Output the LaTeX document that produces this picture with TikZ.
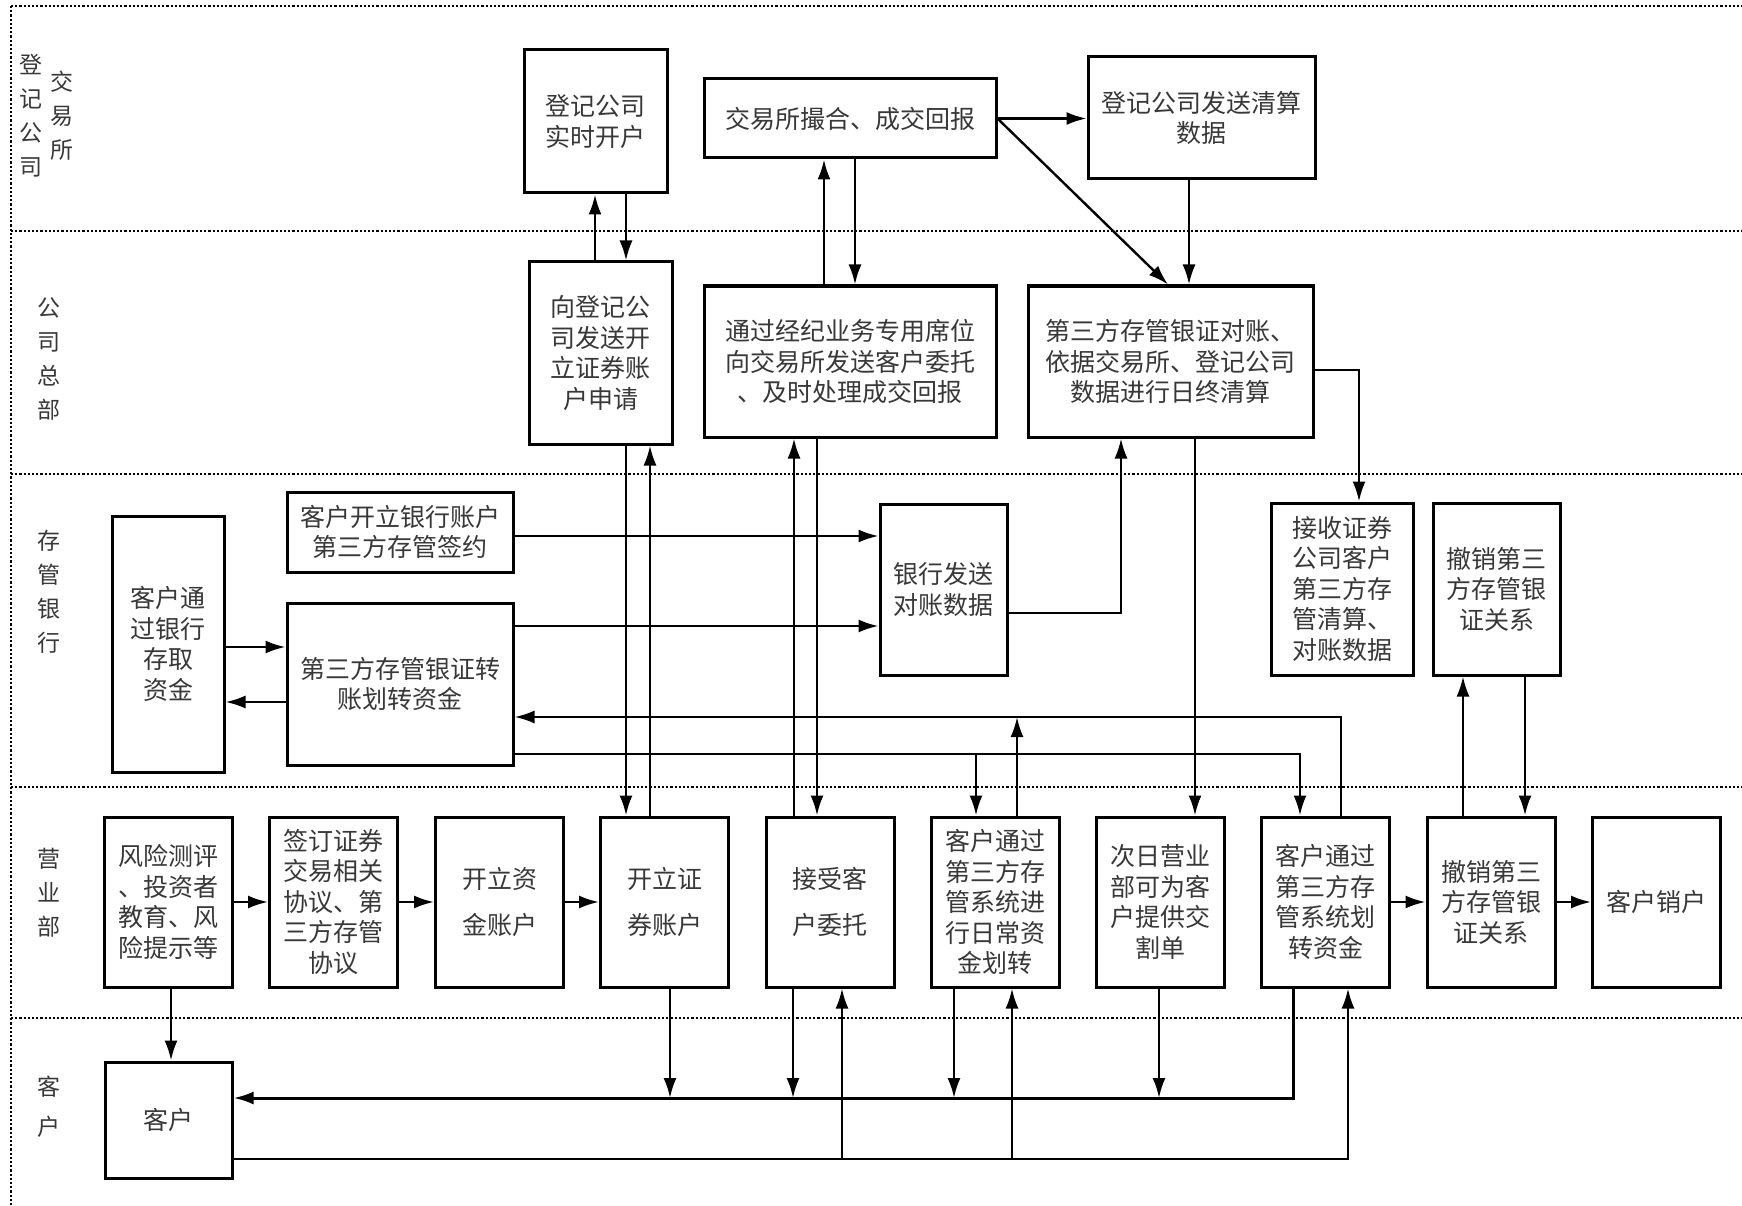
\documentclass[tikz,border=0pt]{standalone}
\usepackage{fontspec}
\newfontfamily\cjk{Noto Sans CJK SC}
\usetikzlibrary{arrows.meta}
\begin{document}
\begin{tikzpicture}[x=1pt,y=-1pt,
  box/.style={draw, line width=3pt, inner sep=0pt, align=center, font=\cjk\fontsize{25}{30.5}\selectfont, text=black!78},
  arr/.style={line width=2.4pt, -{Latex[length=20pt,width=13pt]}},
  lane/.style={line width=1.5pt, dash pattern=on 2.2pt off 2pt},
  lbl/.style={align=center, font=\cjk\fontsize{23}{34}\selectfont, text=black!78, inner sep=0pt}]

\fill[white] (0,0) rectangle (1742,1206);
\useasboundingbox (0,0) rectangle (1742,1206);

% swimlanes
\draw[lane] (11,6) -- (1742,6);
\draw[lane] (11,231) -- (1742,231);
\draw[lane] (11,474) -- (1742,474);
\draw[lane] (11,787) -- (1742,787);
\draw[lane] (11,1018) -- (1742,1018);
\draw[lane] (11,6) -- (11,1206);

% lane labels
\node[lbl] (L1a) at (31,116) {登\\记\\公\\司};
\node[lbl] (L1b) at (62,116) {交\\易\\所};
\node[lbl] (L2) at (49,358.5) {公\\司\\总\\部};
\node[lbl] (L3) at (49,592) {存\\管\\银\\行};
\node[lbl] (L4) at (49,893) {营\\业\\部};
\node[lbl, font=\cjk\fontsize{23}{40}\selectfont] (L5) at (49,1107) {客\\户};

% row A
\node[box, minimum width=143pt, minimum height=143pt] (A1) at (595.5,121.5) {登记公司\\实时开户};
\node[box, minimum width=292pt, minimum height=79pt] (A2) at (850,118.5) {交易所撮合、成交回报};
\node[box, minimum width=227pt, minimum height=122pt] (A3) at (1201.5,118) {登记公司发送清算\\数据};

% row B
\node[box, minimum width=143pt, minimum height=182pt] (B1) at (600.5,353) {向登记公\\司发送开\\立证券账\\户申请};
\node[box, minimum width=292pt, minimum height=151pt] (B2) at (850,361.5) {通过经纪业务专用席位\\向交易所发送客户委托\\、及时处理成交回报};
\node[box, minimum width=285pt, minimum height=151pt] (B3) at (1170.5,361.5) {第三方存管银证对账、\\依据交易所、登记公司\\数据进行日终清算};

% row C
\node[box, minimum width=226pt, minimum height=80pt] (C1) at (400,532) {客户开立银行账户\\第三方存管签约};
\node[box, minimum width=112pt, minimum height=256pt] (C2) at (168,644) {客户通\\过银行\\存取\\资金};
\node[box, minimum width=226pt, minimum height=162pt] (C3) at (400,684) {第三方存管银证转\\账划转资金};
\node[box, minimum width=127pt, minimum height=171pt] (C4) at (943.5,589.5) {银行发送\\对账数据};
\node[box, minimum width=142pt, minimum height=172pt] (C5) at (1342,589) {接收证券\\公司客户\\第三方存\\管清算、\\对账数据};
\node[box, minimum width=127pt, minimum height=172pt] (C6) at (1496.5,589) {撤销第三\\方存管银\\证关系};

% row D
\tikzset{dbox/.style={box, minimum width=128pt, minimum height=170pt}}
\node[dbox] (D1) at (168,902) {风险测评\\、投资者\\教育、风\\险提示等};
\node[dbox] (D2) at (333.5,902) {签订证券\\交易相关\\协议、第\\三方存管\\协议};
\node[dbox] (D3) at (499.5,902) {开立资\\[16pt]金账户};
\node[dbox] (D4) at (664.5,902) {开立证\\[16pt]券账户};
\node[dbox] (D5) at (830,902) {接受客\\[16pt]户委托};
\node[dbox] (D6) at (995,902) {客户通过\\第三方存\\管系统进\\行日常资\\金划转};
\node[dbox] (D7) at (1160.5,902) {次日营业\\部可为客\\户提供交\\割单};
\node[dbox] (D8) at (1325.5,902) {客户通过\\第三方存\\管系统划\\转资金};
\node[dbox] (D9) at (1491,902) {撤销第三\\方存管银\\证关系};
\node[dbox] (D10) at (1656.5,902) {客户销户};

% row E
\node[box, minimum width=127pt, minimum height=116pt] (E1) at (168.5,1120) {客户};

% junction coordinates
\coordinate (jB) at (1017,717);
\coordinate (jT) at (976,754);
\coordinate (k4) at (670,1098);
\coordinate (k5) at (793,1098);
\coordinate (k6) at (954,1098);
\coordinate (k7) at (1159,1098);
\coordinate (m5) at (842,1159);
\coordinate (m6) at (1012,1159);

% A <-> B
\draw[arr] (595,0 |- B1.north) -- (595,0 |- A1.south);
\draw[arr] (626,0 |- A1.south) -- (626,0 |- B1.north);
\draw[arr] (824,0 |- B2.north) -- (824,0 |- A2.south);
\draw[arr] (855,0 |- A2.south) -- (855,0 |- B2.north);
\draw[arr] (A2.east) -- (A3.west |- A2.east);
\draw[arr] (A2.east) -- (1168,0 |- B3.north);
\draw[arr] (1189,0 |- A3.south) -- (1189,0 |- B3.north);

% B <-> D, C
\draw[arr] (650,0 |- D4.north) -- (650,0 |- B1.south);
\draw[arr] (626,0 |- B1.south) -- (626,0 |- D4.north);
\draw[arr] (794,0 |- D5.north) -- (794,0 |- B2.south);
\draw[arr] (817,0 |- B2.south) -- (817,0 |- D5.north);
\draw[arr] (B3.east |- 0,370) -| (1359,0 |- C5.north);
\draw[arr] (C4.east |- 0,613) -| (1121,0 |- B3.south);
\draw[arr] (1195,0 |- B3.south) -- (1195,0 |- D7.north);

% row C
\draw[arr] (C1.east |- 0,536) -- (C4.west |- 0,536);
\draw[arr] (C3.east |- 0,626) -- (C4.west |- 0,626);
\draw[arr] (C2.east |- 0,647) -- (C3.west |- 0,647);
\draw[arr] (C3.west |- 0,702) -- (C2.east |- 0,702);
\draw[arr] (1341,0 |- D8.north) |- (C3.east |- jB);
\draw[arr] (1017,0 |- D6.north) -- (jB);
\draw[arr] (C3.east |- jT) -| (1300,0 |- D8.north);
\draw[arr] (jT) -- (976,0 |- D6.north);
\draw[arr] (1525,0 |- C6.south) -- (1525,0 |- D9.north);
\draw[arr] (1463,0 |- D9.north) -- (1463,0 |- C6.south);

% row D
\draw[arr] (D1.east) -- (D2.west);
\draw[arr] (D2.east) -- (D3.west);
\draw[arr] (D3.east) -- (D4.west);
\draw[arr] (D8.east) -- (D9.west);
\draw[arr] (D9.east) -- (D10.west);

% D <-> E
\draw[arr] (171,0 |- D1.south) -- (171,0 |- E1.north);
\draw[arr, line width=3pt] (1293,0 |- D8.south) |- (E1.east |- k4);
\draw[arr] (670,0 |- D4.south) -- (k4);
\draw[arr] (793,0 |- D5.south) -- (k5);
\draw[arr] (954,0 |- D6.south) -- (k6);
\draw[arr] (1159,0 |- D7.south) -- (k7);
\draw[arr] (E1.east |- m5) -| (1348,0 |- D8.south);
\draw[arr] (m5) -- (842,0 |- D5.south);
\draw[arr] (m6) -- (1012,0 |- D6.south);
\end{tikzpicture}
\end{document}
